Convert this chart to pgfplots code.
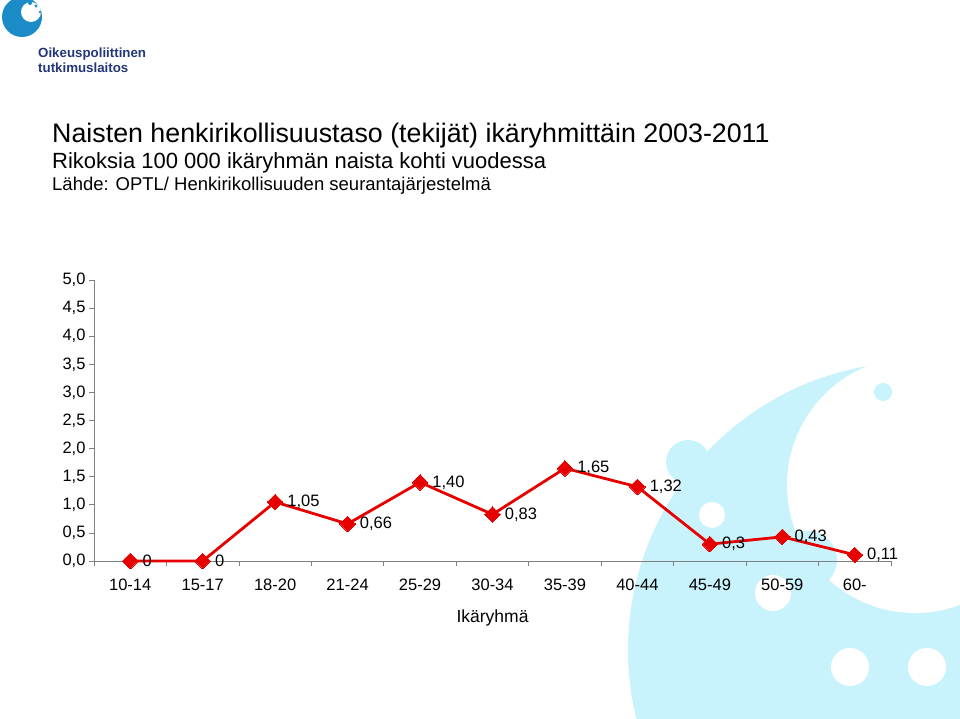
\documentclass[border=0pt]{standalone}
\usepackage{fontspec}
\setmainfont{Liberation Sans}
\usepackage{pgfplots}
\pgfplotsset{compat=1.18}
\definecolor{linered}{RGB}{230,0,0}
\definecolor{wmcyan}{RGB}{200,243,252}
\definecolor{logoblue}{RGB}{28,140,200}
\definecolor{logonavy}{RGB}{35,55,120}
\definecolor{axisgray}{RGB}{128,128,128}

\pgfplotstableread{
x y l
0  0    0
1  0    0
2  1.05 1,05
3  0.66 0,66
4  1.40 1,40
5  0.83 0,83
6  1.65 1,65
7  1.32 1,32
8  0.30 0,3
9  0.43 0,43
10 0.11 0,11
}\naisettable

\begin{document}
\begin{tikzpicture}
\useasboundingbox (0,0) rectangle (960pt,718pt);

% watermark of the logo, bottom right
\begin{scope}
\clip (0,0) rectangle (960pt,718pt);
\fill[wmcyan] (916pt,68pt) circle (288pt);
\fill[wmcyan] (688pt,256pt) circle (22pt);
\fill[white] (915pt,233pt) circle (128pt);
\fill[wmcyan] (808pt,158pt) circle (29pt);
\fill[wmcyan] (883pt,326pt) circle (9pt);
\fill[white] (712pt,203pt) circle (13pt);
\fill[white] (773pt,125pt) circle (18pt);
\fill[white] (850pt,51pt) circle (19pt);
\fill[white] (927pt,51pt) circle (19pt);
\end{scope}

% logo, top left
\fill[logoblue] (22pt,701pt) circle (20pt);
\fill[white] (31pt,706pt) circle (10pt);
\fill[logoblue] (30pt,715pt) circle (2pt);
\fill[logoblue] (36pt,712pt) circle (1.6pt);
\fill[logoblue] (40pt,706pt) circle (1.4pt);
\fill[logoblue] (40pt,699pt) circle (1.6pt);
\node[anchor=base west, inner sep=0, text=logonavy, font=\fontsize{13.3}{15}\selectfont\bfseries] at (38pt,660pt) {Oikeuspoliittinen};
\node[anchor=base west, inner sep=0, text=logonavy, font=\fontsize{13.3}{15}\selectfont\bfseries] at (38pt,645pt) {tutkimuslaitos};

% titles
\node[anchor=base west, inner sep=0, font=\fontsize{26.8}{32}\selectfont] at (52pt,575.3pt) {Naisten henkirikollisuustaso (tekijät) ikäryhmittäin 2003-2011};
\node[anchor=base west, inner sep=0, font=\fontsize{22}{26}\selectfont] at (52pt,549pt) {Rikoksia 100 000 ikäryhmän naista kohti vuodessa};
\node[anchor=base west, inner sep=0, font=\fontsize{18.5}{22}\selectfont] at (52pt,527pt) {Lähde: OPTL/ Henkirikollisuuden seurantajärjestelmä};

\begin{axis}[
  at={(94pt,157pt)}, anchor=south west,
  scale only axis, width=797pt, height=281pt,
  xmin=-0.5, xmax=10.5, ymin=0, ymax=5,
  clip=false,
  axis x line*=bottom, axis y line*=left,
  axis line style={axisgray, line width=0.8pt, -},
  tick align=outside, major tick length=5pt,
  tick style={axisgray, line width=0.8pt},
  /pgf/number format/assume math mode=true,
  tick label style={font=\fontsize{16.5}{19}\selectfont},
  ytick={0,0.5,...,5},
  yticklabel style={/pgf/number format/.cd, fixed, fixed zerofill, precision=1, use comma},
  xtick={-0.5,0.5,...,10.5}, xticklabels={},
  extra x ticks={0,1,2,3,4,5,6,7,8,9,10},
  extra x tick labels={10-14,15-17,18-20,21-24,25-29,30-34,35-39,40-44,45-49,50-59,60-},
  extra x tick style={major tick length=0pt, xticklabel style={anchor=base, yshift=-29pt}},
  xlabel={Ikäryhmä},
  xlabel style={at={(axis description cs:0.5,0)}, anchor=base, yshift=-61pt, font=\fontsize{17.5}{20}\selectfont},
]
\addplot[linered, line width=2.8pt, mark=square*, mark size=5.5pt,
  mark options={rotate=45, fill=linered, draw=linered, line width=0pt},
  nodes near coords, point meta=explicit symbolic,
  nodes near coords style={anchor=west, xshift=9pt, text=black, font=\fontsize{16.5}{19}\selectfont}]
  table[x=x, y=y, meta=l] {\naisettable};
\end{axis}
\end{tikzpicture}
\end{document}
